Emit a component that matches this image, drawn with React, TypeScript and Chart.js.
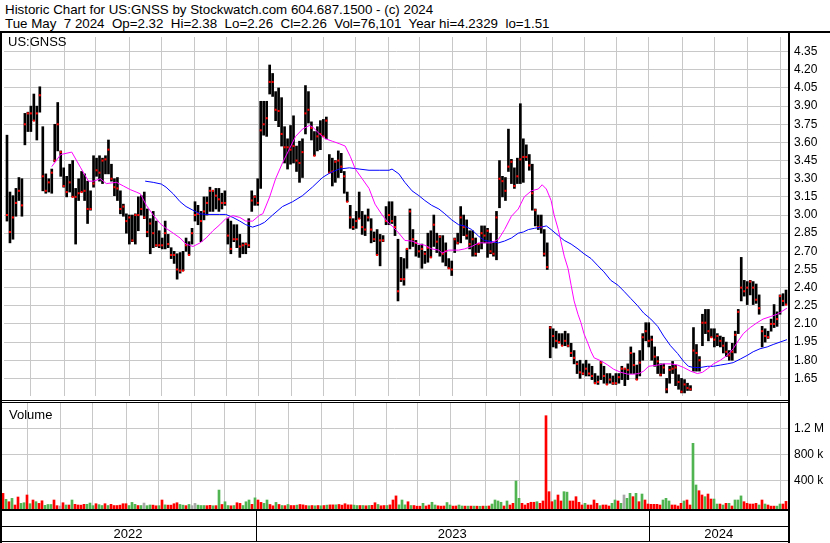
import React, { useEffect, useRef } from "react";
import { Chart, registerables } from "chart.js";

Chart.register(...registerables);

// ---------- data ----------
const titleLine1 = "Historic Chart for US:GNSS by Stockwatch.com 604.687.1500 - (c) 2024";
const titleLine2 = "Tue May  7 2024  Op=2.32  Hi=2.38  Lo=2.26  Cl=2.26  Vol=76,101  Year hi=4.2329  lo=1.51";
const symbolLabel = "US:GNSS";
const volumeLabel = "Volume";

const highs = [
  3.66, 3.19, 3.16, 3.22, 3.31, 3.30, 3.84, 3.85, 3.90, 4.00,
  3.90, 4.06, 3.73, 3.34, 3.30, 3.38, 3.75, 3.93, 3.53, 3.39,
  3.32, 3.42, 3.45, 3.22, 3.30, 3.36, 3.34, 3.28, 3.20, 3.49,
  3.47, 3.49, 3.47, 3.49, 3.62, 3.42, 3.30, 3.31, 3.20, 3.09,
  3.01, 3.00, 3.00, 3.01, 3.15, 3.16, 3.19, 3.05, 2.97, 3.03,
  2.95, 2.87, 2.81, 2.95, 2.84, 2.73, 2.70, 2.68, 2.69, 2.70,
  2.81, 2.78, 2.89, 3.11, 3.08, 3.03, 3.15, 3.15, 3.23, 3.20,
  3.22, 3.22, 3.18, 3.20, 2.97, 2.95, 2.92, 2.92, 2.84, 2.77,
  2.77, 2.97, 3.20, 3.16, 3.30, 3.94, 3.94, 3.94, 4.24, 4.17,
  4.02, 4.05, 3.97, 3.73, 3.63, 3.74, 3.82, 3.57, 3.61, 3.63,
  4.07, 4.02, 3.77, 3.69, 3.73, 3.78, 3.79, 3.81, 3.50, 3.47,
  3.45, 3.53, 3.51, 3.36, 3.19, 3.08, 2.97, 3.03, 3.19, 3.03,
  3.00, 3.05, 2.97, 2.86, 2.88, 2.84, 2.83, 3.07, 3.11, 3.11,
  2.99, 2.80, 2.65, 2.64, 2.72, 3.05, 2.88, 2.79, 2.75, 2.76,
  2.70, 2.85, 2.87, 3.00, 2.85, 2.83, 2.83, 2.77, 2.64, 2.62,
  2.81, 2.85, 3.07, 3.00, 2.96, 2.87, 2.87, 2.81, 2.76, 2.91,
  2.91, 2.89, 2.85, 2.77, 3.03, 3.45, 3.32, 3.31, 3.71, 3.46,
  3.39, 3.47, 3.92, 3.63, 3.58, 3.50, 3.42, 3.05, 3.00, 3.00,
  2.88, 2.77, 2.08, 2.06, 2.04, 2.02, 2.02, 2.04, 2.02, 1.94,
  1.88, 1.79, 1.80, 1.77, 1.80, 1.77, 1.75, 1.69, 1.67, 1.79,
  1.75, 1.69, 1.69, 1.67, 1.69, 1.69, 1.75, 1.73, 1.77, 1.91,
  1.86, 1.76, 1.88, 2.02, 2.11, 2.11, 2.00, 1.91, 1.83, 1.77,
  1.77, 1.65, 1.75, 1.79, 1.76, 1.68, 1.65, 1.64, 1.61, 1.59,
  2.07, 1.93, 1.83, 2.18, 2.22, 2.22, 2.06, 2.06, 2.02, 2.00,
  1.99, 1.95, 1.88, 1.94, 2.04, 2.22, 2.65, 2.46, 2.45, 2.46,
  2.45, 2.43, 2.34, 2.08, 2.06, 2.04, 2.14, 2.26, 2.20, 2.34,
  2.35, 2.38,
];

const lows = [
  2.95, 2.77, 2.80, 2.99, 3.12, 2.99, 3.58, 3.69, 3.69, 3.78,
  3.62, 3.85, 3.20, 3.18, 3.19, 3.18, 3.44, 3.53, 3.32, 3.23,
  3.15, 3.19, 3.15, 2.76, 3.12, 3.19, 3.12, 2.93, 3.04, 3.23,
  3.32, 3.28, 3.26, 3.34, 3.34, 3.28, 3.16, 3.12, 3.01, 2.99,
  2.85, 2.76, 2.78, 2.76, 2.87, 3.00, 2.97, 2.82, 2.68, 2.73,
  2.74, 2.73, 2.72, 2.72, 2.73, 2.64, 2.60, 2.47, 2.52, 2.54,
  2.70, 2.67, 2.76, 2.95, 2.92, 2.78, 2.96, 3.00, 3.03, 3.03,
  3.05, 3.03, 3.05, 3.08, 2.76, 2.68, 2.78, 2.73, 2.65, 2.68,
  2.68, 2.73, 3.03, 3.08, 3.08, 3.22, 3.66, 3.65, 4.00, 3.98,
  3.78, 3.73, 3.57, 3.43, 3.38, 3.42, 3.43, 3.36, 3.27, 3.31,
  3.67, 3.76, 3.62, 3.49, 3.53, 3.54, 3.65, 3.63, 3.35, 3.24,
  3.27, 3.31, 3.35, 3.18, 3.11, 2.89, 2.88, 2.89, 2.97, 2.84,
  2.83, 2.95, 2.77, 2.78, 2.67, 2.58, 2.78, 2.92, 2.92, 2.93,
  2.83, 2.29, 2.45, 2.42, 2.56, 2.72, 2.74, 2.66, 2.65, 2.56,
  2.60, 2.61, 2.65, 2.74, 2.69, 2.66, 2.61, 2.58, 2.56, 2.50,
  2.69, 2.76, 2.77, 2.83, 2.80, 2.72, 2.66, 2.66, 2.69, 2.72,
  2.77, 2.65, 2.68, 2.66, 2.63, 3.06, 3.15, 3.12, 3.36, 3.26,
  3.22, 3.26, 3.26, 3.27, 3.45, 3.37, 3.04, 2.91, 2.88, 2.85,
  2.66, 2.55, 1.82, 1.91, 1.90, 1.94, 1.92, 1.92, 1.91, 1.83,
  1.77, 1.69, 1.65, 1.68, 1.67, 1.67, 1.64, 1.61, 1.60, 1.64,
  1.61, 1.60, 1.61, 1.60, 1.60, 1.61, 1.64, 1.59, 1.64, 1.69,
  1.69, 1.64, 1.67, 1.80, 1.96, 1.91, 1.80, 1.75, 1.69, 1.67,
  1.69, 1.53, 1.61, 1.69, 1.59, 1.56, 1.53, 1.53, 1.55, 1.55,
  1.71, 1.71, 1.71, 1.92, 2.02, 1.96, 1.99, 1.91, 1.92, 1.91,
  1.86, 1.83, 1.80, 1.80, 1.86, 2.02, 2.29, 2.33, 2.26, 2.34,
  2.26, 2.27, 2.18, 1.91, 1.95, 1.98, 2.04, 2.07, 2.08, 2.18,
  2.25, 2.26,
];

const closes = [
  3.00, 2.86, 2.98, 3.10, 3.20, 3.08, 3.75, 3.84, 3.84, 3.78,
  3.84, 3.99, 3.32, 3.20, 3.27, 3.35, 3.45, 3.75, 3.52, 3.24,
  3.19, 3.27, 3.15, 3.15, 3.18, 3.19, 3.20, 3.05, 3.05, 3.26,
  3.37, 3.35, 3.45, 3.46, 3.54, 3.30, 3.23, 3.22, 3.05, 3.07,
  2.95, 2.98, 2.79, 3.00, 3.00, 3.05, 2.98, 2.86, 2.93, 2.85,
  2.75, 2.75, 2.75, 2.85, 2.76, 2.67, 2.67, 2.55, 2.54, 2.54,
  2.75, 2.67, 2.85, 3.00, 3.01, 2.95, 3.03, 3.10, 3.20, 3.20,
  3.16, 3.13, 3.10, 3.10, 2.83, 2.72, 2.80, 2.80, 2.74, 2.75,
  2.76, 2.75, 3.12, 3.15, 3.10, 3.70, 3.75, 3.80, 4.10, 4.10,
  3.87, 3.86, 3.67, 3.56, 3.56, 3.54, 3.57, 3.45, 3.43, 3.52,
  3.84, 3.87, 3.72, 3.49, 3.65, 3.67, 3.65, 3.78, 3.35, 3.36,
  3.44, 3.45, 3.40, 3.32, 3.11, 2.98, 2.90, 2.95, 2.97, 2.90,
  2.88, 2.98, 2.88, 2.80, 2.67, 2.79, 2.79, 2.95, 3.00, 2.95,
  2.90, 2.37, 2.47, 2.47, 2.72, 3.03, 2.80, 2.77, 2.70, 2.72,
  2.68, 2.73, 2.65, 2.92, 2.78, 2.82, 2.68, 2.70, 2.56, 2.55,
  2.80, 2.77, 2.98, 2.90, 2.83, 2.76, 2.80, 2.68, 2.76, 2.85,
  2.83, 2.87, 2.70, 2.68, 2.98, 3.30, 3.28, 3.20, 3.40, 3.44,
  3.24, 3.32, 3.46, 3.48, 3.48, 3.41, 3.18, 3.04, 2.90, 2.90,
  2.68, 2.57, 2.07, 2.00, 1.96, 1.95, 1.92, 1.96, 1.92, 1.86,
  1.82, 1.77, 1.70, 1.69, 1.73, 1.69, 1.67, 1.61, 1.62, 1.78,
  1.67, 1.60, 1.64, 1.61, 1.61, 1.66, 1.73, 1.73, 1.72, 1.86,
  1.76, 1.64, 1.78, 1.99, 2.04, 1.96, 1.97, 1.83, 1.79, 1.68,
  1.74, 1.56, 1.72, 1.73, 1.74, 1.62, 1.54, 1.60, 1.57, 1.56,
  1.88, 1.86, 1.80, 2.11, 2.11, 2.04, 1.99, 1.97, 2.00, 1.96,
  1.92, 1.87, 1.84, 1.87, 2.01, 2.20, 2.40, 2.37, 2.40, 2.45,
  2.40, 2.30, 2.23, 2.04, 2.00, 1.99, 2.10, 2.10, 2.14, 2.33,
  2.29, 2.26,
];

// volume in thousands of shares
const volumesK = [
  199, 107, 70, 122, 20, 143, 45, 55, 174, 40,
  97, 71, 45, 85, 15, 28, 28, 97, 10, 5,
  55, 20, 20, 97, 30, 20, 18, 30, 30, 50,
  10, 40, 25, 12, 40, 12, 30, 12, 12, 18,
  40, 40, 12, 60, 30, 12, 12, 50, 10, 20,
  18, 8, 10, 97, 22, 18, 18, 40, 55, 28,
  18, 10, 28, 10, 45, 18, 12, 12, 10, 15,
  8, 10, 250, 28, 70, 12, 8, 12, 55, 45,
  12, 70, 97, 30, 130, 97, 60, 45, 97, 28,
  8, 60, 28, 12, 10, 28, 12, 12, 18, 28,
  22, 12, 8, 12, 8, 12, 8, 12, 18, 22,
  22, 22, 28, 18, 40, 22, 22, 18, 12, 12,
  12, 8, 12, 15, 55, 28, 8, 12, 12, 22,
  97, 160, 22, 97, 22, 70, 12, 12, 2, 2,
  46, 5, 20, 62, 20, 8, 3, 5, 58, 20,
  3, 5, 20, 5, 3, 3, 3, 3, 2, 1,
  3, 2, 5, 35, 97, 82, 62, 5, 82, 20,
  46, 389, 123, 46, 20, 46, 62, 62, 71, 46,
  82, 1394, 225, 71, 97, 174, 82, 225, 218, 82,
  82, 148, 62, 20, 46, 20, 20, 97, 46, 10,
  20, 20, 5, 46, 97, 82, 46, 174, 123, 200,
  148, 200, 71, 189, 97, 35, 30, 30, 30, 20,
  97, 123, 82, 20, 20, 5, 46, 82, 97, 20,
  969, 328, 240, 174, 148, 189, 112, 112, 35, 35,
  20, 46, 46, 5, 97, 97, 160, 71, 46, 35,
  35, 46, 20, 97, 35, 20, 3, 3, 3, 35,
  35, 76,
];

// 1 = up day, -1 = down day, 0 = unchanged
const volumeDir = [
  -1, 1, -1, 1, -1, -1, 1, 1, -1, 1,
  -1, 1, -1, -1, 1, 1, 1, -1, -1, 0,
  -1, 1, -1, 1, -1, -1, -1, -1, 1, 1,
  1, -1, 1, 1, -1, 1, -1, -1, -1, -1,
  -1, -1, 1, 1, 1, -1, 1, 0, 1, 1,
  -1, -1, 1, -1, 1, -1, -1, -1, -1, 1,
  1, -1, 1, 0, 0, 1, 1, 1, -1, -1,
  1, -1, 1, -1, 1, 1, -1, 1, -1, -1,
  1, 1, 1, -1, 1, -1, -1, 1, 1, -1,
  -1, 1, -1, 1, -1, 1, -1, -1, 1, -1,
  -1, -1, 1, -1, 1, -1, 1, -1, 1, -1,
  -1, 1, -1, -1, -1, -1, -1, 1, 1, -1,
  1, -1, 1, -1, -1, 1, -1, -1, 1, -1,
  -1, -1, 1, 1, 1, -1, 1, -1, -1, -1,
  1, -1, -1, 1, 1, -1, -1, -1, 1, 1,
  -1, -1, 1, 1, -1, 1, -1, 1, -1, 1,
  -1, 1, -1, 1, 1, 1, 1, -1, 1, -1,
  -1, 1, 1, -1, -1, -1, -1, -1, 1, -1,
  -1, -1, -1, -1, 1, -1, -1, 1, 1, -1,
  -1, -1, -1, -1, 1, -1, -1, -1, -1, 1,
  -1, -1, -1, 1, 1, -1, 1, 0, 1, 1,
  -1, 1, -1, 1, -1, -1, -1, -1, -1, -1,
  1, 1, 1, -1, -1, -1, -1, 1, -1, -1,
  1, 1, -1, -1, 1, -1, -1, 1, 1, -1,
  1, -1, 1, -1, 1, 1, 1, -1, -1, -1,
  -1, -1, 1, -1, 1, -1, -1, -1, 1, 1,
  -1, -1,
];

// short moving average (magenta): bar position, value
const maShortIdx = [
  15, 18, 21.7, 24.7, 27.3, 29, 31.3, 33.3, 36.7, 39, 41.3, 43.3, 44.7, 46.7, 49, 51.3, 53.3, 55.7, 58, 60,
  62.3, 64.7, 66.7, 69, 71.3, 73.3, 75.7, 78, 80, 82.3, 84.7, 85.7, 88, 90, 92.3, 94.7, 96.7, 99, 101.3, 102.3,
  104.7, 106.7, 109, 111.3, 113.3, 115, 116.7, 119, 121.3, 123.3, 125.7, 128, 129, 131.3, 133.3, 135.7, 138, 140, 142.3, 144.7,
  145.7, 148, 151.3, 153.3, 155.7, 158, 160, 162.3, 164.7, 166.7, 169, 171.3, 173.3, 175.7, 178, 179.3, 180.7, 182.3, 183.3, 184.7,
  185.7, 186.7, 188, 189, 190, 191.3, 192.3, 193.3, 194.7, 195.7, 196.7, 199, 201.3, 203.3, 205.7, 208, 210, 211.7, 213.3, 215,
  218, 220, 222.3, 224.7, 226.7, 229, 231.3, 233, 234.7, 236.7, 239, 241.3, 243.3, 245, 246.7, 249, 251.3, 253.3, 255.7, 258,
  259.7, 261.3,
];
const maShortVal = [
  3.40, 3.50, 3.52, 3.39, 3.28, 3.28, 3.30, 3.26, 3.27, 3.24, 3.21, 3.19, 3.175, 3.08, 3.00, 2.93, 2.89, 2.85, 2.81, 2.76,
  2.74, 2.77, 2.81, 2.87, 2.92, 2.97, 2.995, 2.98, 2.95, 2.95, 3.00, 3.01, 3.15, 3.30, 3.43, 3.55, 3.65, 3.71, 3.74, 3.73,
  3.67, 3.63, 3.61, 3.59, 3.57, 3.485, 3.38, 3.30, 3.22, 3.09, 3.00, 2.93, 2.91, 2.85, 2.79, 2.785, 2.76, 2.75, 2.72, 2.71,
  2.685, 2.71, 2.71, 2.72, 2.74, 2.77, 2.77, 2.77, 2.80, 2.88, 2.99, 3.05, 3.15, 3.20, 3.215, 3.25, 3.215, 3.12, 3.00, 2.88,
  2.77, 2.66, 2.555, 2.42, 2.29, 2.18, 2.11, 2.02, 1.935, 1.87, 1.82, 1.795, 1.76, 1.725, 1.70, 1.685, 1.685, 1.69, 1.71, 1.75,
  1.76, 1.77, 1.77, 1.76, 1.74, 1.71, 1.69, 1.70, 1.73, 1.77, 1.80, 1.84, 1.895, 1.96, 2.02, 2.07, 2.11, 2.14, 2.16, 2.18,
  2.205, 2.23,
];

// long moving average (blue): bar position, value
const maLongIdx = [
  46.3, 49, 51.7, 53.3, 55.7, 58, 60, 62.3, 64.7, 66.7, 71.3, 73.3, 75.7, 78, 80, 82.3, 84.7, 86.3, 89, 92.3,
  95.7, 99, 102.3, 105.7, 108, 111.3, 114.7, 118, 121.3, 124.7, 128, 129, 131.3, 133.3, 135.7, 138, 140, 142.3, 144.7, 146.7,
  149, 151.3, 153.3, 155.7, 158, 160, 162.3, 164.7, 166.7, 169, 171.3, 173, 174.7, 176.7, 179, 180.7, 182.3, 184.7, 186.7, 189,
  191.3, 193.3, 195.7, 198, 200, 202.3, 204.7, 206.7, 209, 211.3, 213.3, 215.7, 218, 220, 222.3, 224.7, 226.7, 228.3, 230, 232.3,
  234.7, 236.7, 239, 241.3, 243.3, 245.7, 248, 250, 252.3, 254.7, 256.7, 259, 261.3,
];
const maLongVal = [
  3.28, 3.27, 3.256, 3.23, 3.175, 3.11, 3.07, 3.04, 3.01, 3.005, 3.005, 3.005, 2.98, 2.95, 2.92, 2.90, 2.92, 2.94, 3.00, 3.07,
  3.11, 3.16, 3.23, 3.31, 3.345, 3.38, 3.39, 3.38, 3.37, 3.37, 3.37, 3.38, 3.34, 3.27, 3.20, 3.16, 3.12, 3.08, 3.05, 3.01,
  2.96, 2.92, 2.91, 2.88, 2.825, 2.79, 2.78, 2.77, 2.785, 2.81, 2.85, 2.86, 2.88, 2.89, 2.90, 2.91, 2.88, 2.83, 2.79, 2.76,
  2.72, 2.68, 2.64, 2.58, 2.53, 2.46, 2.42, 2.37, 2.31, 2.25, 2.19, 2.14, 2.08, 2.00, 1.92, 1.855, 1.79, 1.75, 1.74, 1.74,
  1.75, 1.75, 1.76, 1.77, 1.78, 1.81, 1.84, 1.87, 1.895, 1.91, 1.93, 1.95, 1.97,
];

const priceTicks = [1.65, 1.8, 1.95, 2.1, 2.25, 2.4, 2.55, 2.7, 2.85, 3.0, 3.15, 3.3, 3.45, 3.6, 3.75, 3.9, 4.05, 4.2, 4.35];
const volumeTicksK = [400, 800, 1200];
// bar positions where a new month starts (vertical grid lines)
const monthStarts = [8, 19.33, 29.67, 41, 51.67, 62.67, 73.67, 84.33, 95.33, 106, 116.67, 127.67, 138.33, 149.33, 160.67, 172, 182.67, 193.33, 204.33, 215, 226.33, 237, 248, 259];
// bar positions where a new year starts
const yearStarts = [84.33, 215.17];
const yearLabels = ["2022", "2023", "2024"];

// ---------- styling ----------
const GRID = "#c8c8c8";
const FONT = '"Liberation Sans", Arial, Helvetica, sans-serif';
const X_MIN = -1;
const X_MAX = 262;
const PRICE_MIN = 1.5044;
const PRICE_MAX = 4.4713;
const VOL_MIN = -41.5;
const VOL_MAX = 1589.3;

function xScaleOptions() {
  return {
    type: "linear" as const,
    min: X_MIN,
    max: X_MAX,
    offset: false,
    grid: { color: GRID, lineWidth: 1, drawTicks: false, offset: false },
    border: { display: false },
    ticks: { display: false },
    afterBuildTicks: (s: any) => {
      s.ticks = monthStarts.map((v) => ({ value: v }));
    },
    afterFit: (s: any) => {
      s.height = 0;
      s.paddingLeft = 0;
      s.paddingRight = 0;
    },
  };
}

function yScaleOptions(min: number, max: number, ticks: number[], fmt: (v: number) => string) {
  return {
    type: "linear" as const,
    position: "right" as const,
    min,
    max,
    grid: { color: GRID, lineWidth: 1, drawTicks: false },
    border: { display: false },
    ticks: {
      autoSkip: false,
      padding: 5,
      color: "#000",
      font: { family: FONT, size: 12 },
      callback: (v: any) => fmt(Number(v)),
    },
    afterBuildTicks: (s: any) => {
      s.ticks = ticks.map((v) => ({ value: v }));
    },
    afterFit: (s: any) => {
      s.width = 41;
      s.paddingTop = 0;
      s.paddingBottom = 0;
    },
  };
}

const dateStripPlugin = {
  id: "dateStrip",
  afterDraw(chart: any) {
    const { ctx, chartArea, scales } = chart;
    const xs = scales.x;
    const right = chartArea.right;
    const b = chartArea.bottom;
    ctx.save();
    ctx.fillStyle = "#000";
    ctx.fillRect(0, b, right + 1, 2);
    ctx.fillRect(0, b + 17, right + 1, 1);
    ctx.fillRect(0, b + 32, right + 1, 1);
    const edges = [0, ...yearStarts.map((v) => xs.getPixelForValue(v)), right];
    yearStarts.forEach((v) => {
      const px = Math.round(xs.getPixelForValue(v));
      ctx.fillRect(px, b + 2, 1, 31);
    });
    ctx.font = `13px ${FONT}`;
    ctx.textAlign = "center";
    ctx.textBaseline = "middle";
    yearLabels.forEach((lab, k) => {
      ctx.fillText(lab, (edges[k] + edges[k + 1]) / 2, b + 25.5);
    });
    ctx.restore();
  },
};

export default function App() {
  const priceRef = useRef<HTMLCanvasElement>(null);
  const volRef = useRef<HTMLCanvasElement>(null);

  useEffect(() => {
    const barData = highs.map((h, i) => ({ x: i, y: [lows[i], h] }));
    const closeData = closes.map((c, i) => ({ x: i, y: c }));
    const shortData = maShortIdx.map((x, k) => ({ x, y: maShortVal[k] }));
    const longData = maLongIdx.map((x, k) => ({ x, y: maLongVal[k] }));

    const priceChart = new Chart(priceRef.current as HTMLCanvasElement, {
      type: "bar",
      data: {
        datasets: [
          {
            type: "line",
            data: shortData as any,
            borderColor: "#ff00ff",
            borderWidth: 1,
            pointRadius: 0,
            tension: 0,
          },
          {
            type: "line",
            data: longData as any,
            borderColor: "#0000ff",
            borderWidth: 1,
            pointRadius: 0,
            tension: 0,
          },
          {
            type: "scatter",
            data: closeData as any,
            backgroundColor: "#ff0000",
            borderWidth: 0,
            pointStyle: "rect",
            pointRadius: 1.45,
          },
          {
            type: "bar",
            data: barData as any,
            backgroundColor: "#000000",
            barThickness: 2,
            grouped: false,
          },
        ] as any,
      },
      options: {
        responsive: false,
        devicePixelRatio: 1,
        animation: false,
        events: [],
        layout: { padding: 0 },
        plugins: { legend: { display: false }, tooltip: { enabled: false } },
        scales: {
          x: xScaleOptions() as any,
          y: yScaleOptions(PRICE_MIN, PRICE_MAX, priceTicks, (v) => v.toFixed(2)) as any,
        },
      },
    });

    const volColors = volumeDir.map((d) => (d > 0 ? "#50b450" : d < 0 ? "#ff0000" : "#a8a8a8"));
    const volChart = new Chart(volRef.current as HTMLCanvasElement, {
      type: "bar",
      data: {
        datasets: [
          {
            type: "bar",
            data: volumesK.map((v, i) => ({ x: i, y: v })) as any,
            backgroundColor: volColors,
            barThickness: 2,
            grouped: false,
            base: VOL_MIN,
          },
        ] as any,
      },
      options: {
        responsive: false,
        devicePixelRatio: 1,
        animation: false,
        events: [],
        layout: { padding: { top: 2, bottom: 34, left: 0, right: 0 } },
        plugins: { legend: { display: false }, tooltip: { enabled: false } },
        scales: {
          x: xScaleOptions() as any,
          y: yScaleOptions(VOL_MIN, VOL_MAX, volumeTicksK, (v) =>
            v >= 1000 ? `${v / 1000} M` : `${v} k`
          ) as any,
        },
      },
      plugins: [dateStripPlugin],
    });

    return () => {
      priceChart.destroy();
      volChart.destroy();
    };
  }, []);

  const abs = (o: React.CSSProperties): React.CSSProperties => ({ position: "absolute", ...o });
  const textStyle: React.CSSProperties = { fontFamily: FONT, color: "#000", whiteSpace: "pre", lineHeight: "15px" };

  return (
    <div style={abs({ left: 0, top: 0, width: 830, height: 543, background: "#fff", overflow: "hidden" })}>
      <div style={abs({ ...textStyle, left: 5, top: 1.5, fontSize: "13.33px" })}>{titleLine1}</div>
      <div style={abs({ ...textStyle, left: 5, top: 15.8, fontSize: "13.33px" })}>{titleLine2}</div>
      <canvas ref={priceRef} width={830} height={367} style={abs({ left: 0, top: 33, width: 830, height: 367 })} />
      <canvas ref={volRef} width={830} height={142} style={abs({ left: 0, top: 401, width: 830, height: 142 })} />
      <div style={abs({ ...textStyle, left: 8, top: 34.2, fontSize: "13px" })}>{symbolLabel}</div>
      <div style={abs({ ...textStyle, left: 9, top: 406.5, fontSize: "13px" })}>{volumeLabel}</div>
      <div style={abs({ left: 0, top: 31, width: 830, height: 2, background: "#000" })} />
      <div style={abs({ left: 0, top: 31, width: 2, height: 512, background: "#000" })} />
      <div style={abs({ left: 788, top: 31, width: 2, height: 512, background: "#000" })} />
      <div style={abs({ left: 0, top: 400, width: 790, height: 1, background: "#000" })} />
      <div style={abs({ left: 0, top: 402, width: 790, height: 1, background: "#000" })} />
    </div>
  );
}
